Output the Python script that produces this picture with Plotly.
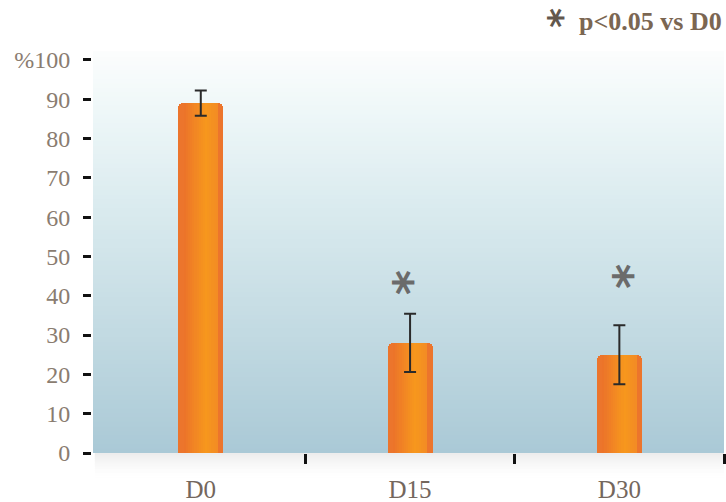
import plotly.graph_objects as go

# ---- data ---------------------------------------------------------------
days = ["D0", "D15", "D30"]
percent = [89.0, 28.0, 25.0]
percent_err = [3.2, 7.4, 7.5]
star_level = [None, 43.5, 45.0]          # height of the significance marks
star_shift = [0, -14, -3]
y_tick_vals = [0, 10, 20, 30, 40, 50, 60, 70, 80, 90, 100]
y_tick_text = ["0", "10", "20", "30", "40", "50", "60", "70", "80", "90", "%100"]
note_text = "p<0.05 vs D0"

xpos = list(range(len(days)))

# ---- styling helpers ------------------------------------------------------
def hex_rgb(h):
    h = h.lstrip("#")
    return tuple(int(h[i:i + 2], 16) for i in (0, 2, 4))


def blend(stops, t):
    for (t0, c0), (t1, c1) in zip(stops, stops[1:]):
        if t0 <= t <= t1:
            f = 0 if t1 == t0 else (t - t0) / (t1 - t0)
            a, b = hex_rgb(c0), hex_rgb(c1)
            return "rgb(%d,%d,%d)" % tuple(round(a[i] + (b[i] - a[i]) * f) for i in range(3))
    return stops[-1][1]


SERIF = "Liberation Serif"
BAR_W = 0.215
CORNER = 5

fig = go.Figure()

# base bar with rounded top corners
fig.add_trace(go.Bar(
    x=xpos, y=percent, width=BAR_W,
    marker=dict(color="#ec752c", line=dict(width=0), cornerradius=CORNER),
    hoverinfo="skip", showlegend=False,
))

# horizontal shading of the bars, built from thin overlaid strips
bar_stops = [(0.0, "#e8692d"), (0.45, "#f48c21"), (0.62, "#f7971d"), (1.0, "#f08528")]
n_strips = 16
edge = 0.026
inner = BAR_W - 2 * edge
for i in range(n_strips):
    t = (edge + (i + 0.5) * inner / n_strips) / BAR_W
    fig.add_trace(go.Bar(
        x=xpos, y=percent, width=inner / n_strips * 1.08,
        offset=-BAR_W / 2 + edge + i * inner / n_strips,
        marker=dict(color=blend(bar_stops, t), line=dict(width=0)),
        hoverinfo="skip", showlegend=False,
    ))

# error bars
fig.add_trace(go.Scatter(
    x=xpos, y=percent, mode="markers",
    marker=dict(size=1, color="rgba(0,0,0,0)"),
    error_y=dict(type="data", array=percent_err, color="#2a2a2a", thickness=2, width=6),
    hoverinfo="skip", showlegend=False,
))

# invisible trace that carries the boundary tick axis
fig.add_trace(go.Scatter(x=[0.5], y=[0], xaxis="x2", mode="markers",
                         marker=dict(size=1, color="rgba(0,0,0,0)"),
                         hoverinfo="skip", showlegend=False))

# significance marks
for xi, lvl, sh in zip(xpos, star_level, star_shift):
    if lvl is None:
        continue
    fig.add_annotation(x=xi, y=lvl, xref="x", yref="y", text="<b>*</b>", showarrow=False,
                       xshift=sh, textangle=90,
                       font=dict(family="DejaVu Sans", size=48, color="#6b6b6b"),
                       xanchor="center", yanchor="middle")

# note in the top right corner
fig.add_annotation(
    xref="paper", yref="paper", x=1, y=1, xanchor="right", yanchor="bottom",
    xshift=0, yshift=14, showarrow=False,
    text="<b>" + note_text + "</b>",
    font=dict(family=SERIF, size=26, color="#7b6652"),
)
fig.add_annotation(
    xref="paper", yref="paper", x=1, y=1, xanchor="right", yanchor="bottom",
    xshift=-150, yshift=22, showarrow=False, textangle=90,
    text="<b>*</b>",
    font=dict(family="DejaVu Sans", size=38, color="#62574d"),
)

# plot background gradient
bg_stops = [(0.0, "#aac9d6"), (0.3, "#c2dae2"), (0.6, "#d9eaee"), (0.85, "#eef7f8"), (1.0, "#fbfdfd")]
n_bg = 90
shapes = []
for i in range(n_bg):
    shapes.append(dict(type="rect", xref="x domain", yref="y domain", layer="below",
                       x0=0, x1=1, y0=i / n_bg, y1=(i + 1) / n_bg + 0.002,
                       line=dict(width=0), fillcolor=blend(bg_stops, (i + 0.5) / n_bg)))
# soft shadow under the plot panel
n_sh = 14
for i in range(n_sh):
    shapes.append(dict(type="rect", xref="paper", yref="paper", layer="below",
                       x0=0.006, x1=1.0, y0=-(i + 1) * 0.0045, y1=-i * 0.0045,
                       line=dict(width=0),
                       fillcolor="rgba(90,90,90,%.3f)" % (0.11 * (1 - i / n_sh) ** 1.6)))

x_range = [-0.515, 2.5]
fig.update_layout(
    width=726, height=502,
    margin=dict(l=91, r=2, t=52, b=49, autoexpand=False),
    paper_bgcolor="white", plot_bgcolor="rgba(0,0,0,0)",
    barmode="overlay", bargap=0,
    shapes=shapes,
    font=dict(family=SERIF),
    xaxis=dict(domain=[2 / 633, 1], range=x_range, tickvals=xpos, ticktext=days,
               ticks="", showline=False, showgrid=False, zeroline=False,
               tickfont=dict(family=SERIF, size=25, color="#74675d"),
               ticklabelstandoff=19, automargin=False, fixedrange=True),
    xaxis2=dict(domain=[2 / 633, 1], range=x_range, overlaying="x", anchor="y",
                tickvals=[0.5, 1.5, 2.5], ticks="outside", ticklen=10, tickwidth=3,
                tickcolor="#111111", showticklabels=False, showline=False,
                showgrid=False, zeroline=False, automargin=False),
    yaxis=dict(range=[0, 102], anchor="free", position=0, tickvals=y_tick_vals,
               ticktext=y_tick_text, ticks="outside", ticklen=8, tickwidth=3,
               tickcolor="#111111", showline=False, showgrid=False, zeroline=False,
               tickfont=dict(family=SERIF, size=24, color="#8a7c70"),
               ticklabelstandoff=8, automargin=False),
)

fig.write_html("out.html")
